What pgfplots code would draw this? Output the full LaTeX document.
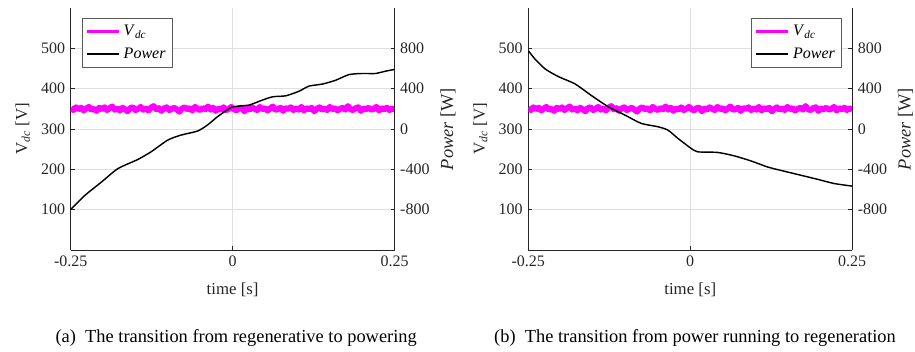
\documentclass[border=0pt]{standalone}
\usepackage{fontspec}
\setmainfont{Liberation Serif}
\usepackage{pgfplots}
\pgfplotsset{compat=1.18}
\usepackage{pgfplotstable}

\definecolor{vdc}{RGB}{255,0,255}
\definecolor{axgray}{RGB}{38,38,38}
\definecolor{gridgray}{RGB}{223,223,223}
\definecolor{leggray}{RGB}{90,90,90}

\pgfplotstableread{
t v
-0.250 352
-0.246 347
-0.242 354
-0.238 349
-0.234 353
-0.230 346
-0.226 351
-0.222 355
-0.218 348
-0.214 350
-0.210 345
-0.206 353
-0.202 349
-0.198 354
-0.194 347
-0.190 352
-0.186 356
-0.182 348
-0.178 351
-0.174 346
-0.170 353
-0.166 349
-0.162 344
-0.158 352
-0.154 354
-0.150 347
-0.146 350
-0.142 355
-0.138 348
-0.134 351
-0.130 346
-0.126 353
-0.122 357
-0.118 349
-0.114 352
-0.110 345
-0.106 351
-0.102 354
-0.098 347
-0.094 350
-0.090 353
-0.086 348
-0.082 343
-0.078 351
-0.074 354
-0.070 349
-0.066 352
-0.062 346
-0.058 355
-0.054 350
-0.050 347
-0.046 352
-0.042 349
-0.038 356
-0.034 348
-0.030 353
-0.026 345
-0.022 351
-0.018 348
-0.014 354
-0.010 347
-0.006 350
-0.002 355
0.002 349
0.006 346
0.010 352
0.014 353
0.018 344
0.022 351
0.026 348
0.030 354
0.034 350
0.038 347
0.042 355
0.046 349
0.050 352
0.054 346
0.058 351
0.062 356
0.066 348
0.070 349
0.074 353
0.078 345
0.082 352
0.086 350
0.090 354
0.094 347
0.098 351
0.102 348
0.106 355
0.110 346
0.114 352
0.118 349
0.122 353
0.126 344
0.130 350
0.134 354
0.138 348
0.142 351
0.146 347
0.150 355
0.154 349
0.158 352
0.162 346
0.166 350
0.170 353
0.174 348
0.178 357
0.182 349
0.186 347
0.190 352
0.194 354
0.198 345
0.202 351
0.206 349
0.210 353
0.214 348
0.218 350
0.222 355
0.226 346
0.230 352
0.234 349
0.238 353
0.242 347
0.246 351
0.250 349
}\vdcA

\pgfplotstableread{
t p
-0.2500 -798
-0.2285 -660
-0.2030 -528
-0.1773 -393
-0.1465 -302
-0.1260 -226
-0.1003 -110
-0.0798 -60
-0.0542 -20
-0.0388 40
-0.0234 122
-0.0030 212
0.0105 228
0.0260 239
0.0463 288
0.0620 320
0.0823 330
0.1028 376
0.1180 426
0.1386 446
0.1590 484
0.1797 540
0.2000 551
0.2206 551
0.2360 574
0.2500 591
}\powA

\pgfplotstableread{
t p
-0.2500 777
-0.2397 694
-0.2240 596
-0.2036 520
-0.1780 448
-0.1525 332
-0.1270 223
-0.1012 140
-0.0756 56
-0.0500 23
-0.0346 -10
-0.0192 -92
-0.0090 -142
0.0014 -192
0.0116 -226
0.0424 -232
0.0680 -266
0.0937 -316
0.1193 -376
0.1450 -418
0.1707 -458
0.1963 -498
0.2220 -540
0.2500 -566
}\powB

\pgfplotsset{
  base/.style={
    scale only axis, width=202.4pt, height=151.25pt,
    xmin=-0.25, xmax=0.25,
    anchor=south west,
    tick align=inside, major tick length=2.5pt,
    tick style={axgray, line width=0.5pt},
    axis line style={axgray, line width=0.6pt},
    every tick label/.append style={font=\fontsize{10}{12}\selectfont, text=axgray},
    /pgf/number format/assume math mode=true,
  },
  leftax/.style={
    base,
    ymin=0, ymax=600,
    ytick={100,200,300,400,500},
    yticklabels={100,200,300,400,500},
    xtick={-0.25,0,0.25},
    xticklabels={-0.25,0,0.25},
    axis x line*=bottom, axis y line*=left,
    xmajorgrids, ymajorgrids,
    major grid style={gridgray, line width=0.6pt},
    xlabel={time [s]},
    xlabel style={at={(axis description cs:0.5,-0.165)}, anchor=center, font=\fontsize{10.5}{12}\selectfont, text=axgray},
    ylabel={V\textsubscript{\textit{dc}} [V]},
    ylabel style={at={(axis description cs:-0.148,0.5)}, anchor=center, font=\fontsize{10.5}{12}\selectfont, text=axgray},
  },
  rightax/.style={
    base,
    ymin=-1200, ymax=1200,
    ytick={-800,-400,0,400,800},
    yticklabels={-800,-400,0,400,800},
    axis y line*=right, axis x line=none,
    ylabel={\textit{Power} [W]},
    ylabel style={at={(axis description cs:1.165,0.5)}, anchor=center, font=\fontsize{11.5}{13}\selectfont, text=axgray},
    legend cell align=left,
    legend image code/.code={\draw[#1] (0pt,0pt) -- (20pt,0pt);},
  },
  legbox/.style={draw=leggray, line width=0.5pt, fill=white,
    font=\fontsize{10}{12}\selectfont, inner xsep=2pt, inner ysep=2pt, row sep=2pt},
}

\begin{document}
\begin{tikzpicture}
\path[use as bounding box] (0pt,0pt) rectangle (571.875pt,219.375pt);

% ---------- (a) ----------
\begin{axis}[leftax, at={(44.2pt,63.1pt)}]
  \addplot[vdc, line width=3.7pt, line join=round] table[x=t, y=v] {\vdcA};
\end{axis}
\begin{axis}[rightax, at={(44.2pt,63.1pt)},
  legend style={legbox, at={(0.034,0.957)}, anchor=north west}]
  \addlegendimage{vdc, line width=2pt}
  \addlegendentry{\textit{V}\textsubscript{\textit{dc}}}
  \addplot[black, line width=0.9pt, smooth, tension=0.4] table[x=t, y=p] {\powA};
  \addlegendentry{\textit{Power}}
\end{axis}

% ---------- (b) ----------
\begin{axis}[leftax, at={(330.2pt,63.1pt)}]
  \addplot[vdc, line width=3.7pt, line join=round] table[x=t, y=v] {\vdcA};
\end{axis}
\begin{axis}[rightax, at={(330.2pt,63.1pt)},
  legend style={legbox, at={(0.968,0.957)}, anchor=north east}]
  \addlegendimage{vdc, line width=2pt}
  \addlegendentry{\textit{V}\textsubscript{\textit{dc}}}
  \addplot[black, line width=0.9pt, smooth, tension=0.4] table[x=t, y=p] {\powB};
  \addlegendentry{\textit{Power}}
\end{axis}

\node[font=\fontsize{11.5}{13}\selectfont, text=black] at (147.6pt,7.9pt) {(a)\ \ The transition from regenerative to powering};
\node[font=\fontsize{11.5}{13}\selectfont, text=black] at (434.4pt,7.9pt) {(b)\ \ The transition from power running to regeneration};
\end{tikzpicture}
\end{document}
